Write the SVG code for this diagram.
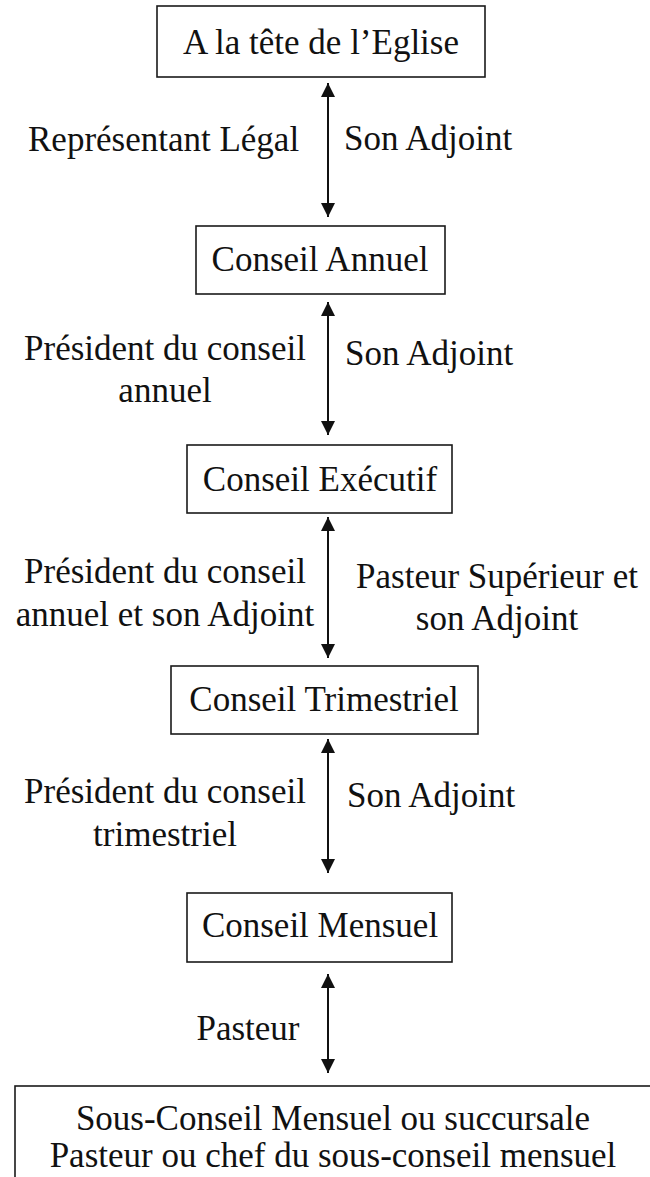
<svg xmlns="http://www.w3.org/2000/svg" width="650" height="1177" viewBox="0 0 650 1177">
<style>
.box{fill:#fff;stroke:#1a1a1a;stroke-width:1.6}
.t{font-family:"Liberation Serif","Times New Roman",serif;font-size:35px;fill:#111}
.c{text-anchor:middle}
.conn{stroke:#111;stroke-width:2;fill:none;marker-start:url(#ah);marker-end:url(#ah)}
</style>
<defs>
<marker id="ah" viewBox="0 0 14 14" refX="14" refY="7" markerWidth="14" markerHeight="14" markerUnits="userSpaceOnUse" orient="auto-start-reverse">
<path d="M0,0 L14,7 L0,14 z" fill="#111"/>
</marker>
</defs>
<rect width="650" height="1177" fill="#fff"/>
<g id="connectors">
<line class="conn" x1="328" y1="83" x2="328" y2="217"/>
<line class="conn" x1="328" y1="302" x2="328" y2="435"/>
<line class="conn" x1="328" y1="517" x2="328" y2="658"/>
<line class="conn" x1="328" y1="739" x2="328" y2="873"/>
<line class="conn" x1="328" y1="974" x2="328" y2="1073"/>
</g>
<g id="labels">
<text class="t" x="28" y="151">Représentant Légal</text>
<text class="t" x="344" y="150">Son Adjoint</text>
<text class="t c" x="165" y="360">Président du conseil</text>
<text class="t c" x="165" y="402">annuel</text>
<text class="t" x="345" y="365">Son Adjoint</text>
<text class="t c" x="165" y="583">Président du conseil</text>
<text class="t c" x="165" y="626">annuel et son Adjoint</text>
<text class="t c" x="497" y="588">Pasteur Supérieur et</text>
<text class="t c" x="497" y="630">son Adjoint</text>
<text class="t c" x="165" y="803">Président du conseil</text>
<text class="t c" x="165" y="846">trimestriel</text>
<text class="t" x="347" y="807">Son Adjoint</text>
<text class="t c" x="248" y="1040">Pasteur</text>
</g>
<g id="n1">
<rect class="box" x="157" y="6" width="328" height="71"/>
<text class="t c" x="321" y="54">A la tête de l’Eglise</text>
</g>
<g id="n2">
<rect class="box" x="196" y="226" width="249" height="68"/>
<text class="t c" x="320" y="271">Conseil Annuel</text>
</g>
<g id="n3">
<rect class="box" x="187" y="445" width="265" height="68"/>
<text class="t c" x="320" y="491">Conseil Exécutif</text>
</g>
<g id="n4">
<rect class="box" x="171" y="666" width="307" height="68"/>
<text class="t c" x="324" y="711">Conseil Trimestriel</text>
</g>
<g id="n5">
<rect class="box" x="187" y="893" width="265" height="69"/>
<text class="t c" x="320" y="937">Conseil Mensuel</text>
</g>
<g id="n6">
<rect class="box" x="15" y="1086" width="660" height="120"/>
<text class="t c" x="333" y="1130">Sous-Conseil Mensuel ou succursale</text>
<text class="t c" x="333" y="1167">Pasteur ou chef du sous-conseil mensuel</text>
</g>
</svg>
